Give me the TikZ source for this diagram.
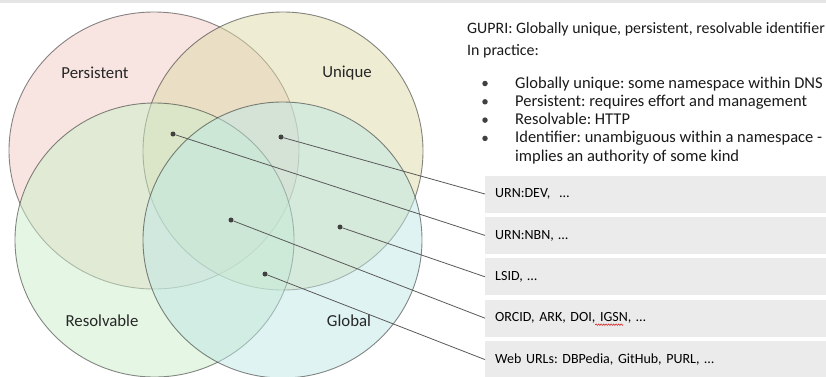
\documentclass[tikz,border=0pt]{standalone}
\usepackage{fontspec}
\setmainfont{Carlito}
\usetikzlibrary{positioning,decorations.pathmorphing}
\frenchspacing
\definecolor{persist}{RGB}{241,203,197}
\definecolor{uniq}{RGB}{221,219,169}
\definecolor{resolv}{RGB}{203,239,201}
\definecolor{glob}{RGB}{191,231,229}
\newsavebox\prebox
\newsavebox\igsnbox
\tikzset{
	venn/.style={draw=black!85, draw opacity=0.55, fill opacity=0.5, line width=0.9pt},
	setlabel/.style={font=\fontsize{16.8}{19}\selectfont, text=black!85},
	spot/.style={circle, fill=black!75, inner sep=0pt, minimum size=5pt},
	idbox/.style={fill=black!8, minimum height=37pt, text width=321pt, inner xsep=10pt, align=left, font=\fontsize{14}{16}\selectfont},
	link/.style={draw=black!65, line width=0.8pt},
	note/.style={anchor=base west, inner sep=0pt, font=\fontsize{16.5}{18}\selectfont, text=black!90},
	spellmark/.style={draw=red!80!black, line width=0.5pt, decorate, decoration={snake, amplitude=0.7pt, segment length=2.5pt}},
}
\begin{document}
\sbox\prebox{\fontsize{14}{16}\selectfont ORCID, ARK, DOI, }%
\sbox\igsnbox{\fontsize{14}{16}\selectfont IGSN}%
\begin{tikzpicture}[x=1pt,y=-1pt]
	\useasboundingbox (0,0) rectangle (826,376);
	\fill [black!10] (0,0) rectangle (826,2.5);
	% the four sets
	\begin{scope}
		\clip (0,0) rectangle (826,376);
		\draw [venn, fill=persist] (154,150.5) ellipse [x radius=145pt, y radius=138.5pt];
		\draw [venn, fill=uniq] (283,151) ellipse [x radius=140pt, y radius=139pt];
		\draw [venn, fill=resolv] (154.5,240) ellipse [x radius=139.5pt, y radius=137pt];
		\draw [venn, fill=glob] (282.5,240) ellipse [x radius=139.5pt, y radius=138pt];
	\end{scope}
	\node [setlabel] (lp) at (95,73) {Persistent};
	\node [setlabel] (lu) at (347,73) {Unique};
	\node [setlabel] (lr) at (102,321) {Resolvable};
	\node [setlabel] (lg) at (349,321) {Global};
	% notes
	\node [note, font=\fontsize{15.9}{18}\selectfont] (hd1) at (467,33) {GUPRI: Globally unique, persistent, resolvable identifier};
	\node [note, font=\fontsize{15.9}{18}\selectfont] (hd2) at (467,55) {In practice:};
	\foreach \txt [count=\i] in {Globally unique: some namespace within DNS, Persistent: requires effort and management, Resolvable: HTTP, Identifier: unambiguous within a namespace -}{
		\node [note] (it\i) at (515,69.7+18.3*\i) {\txt};
		\node [spot, minimum size=5.5pt] (bul\i) at (485,65.2+18.3*\i) {};
	}
	\node [note] (it5) at (515,161.2) {implies an authority of some kind};
	% identifier schemes
	\node [idbox, anchor=west] (b1) at (485,194) {URN:DEV,\ \ …};
	\node [idbox, below=4pt of b1] (b2) {URN:NBN, …};
	\node [idbox, below=4pt of b2] (b3) {LSID, …};
	\node [idbox, below=4pt of b3] (b4) {ORCID, ARK, DOI, IGSN, …};
	\node [idbox, below=4pt of b4] (b5) {Web URLs: DBPedia, GitHub, PURL, …};
	\draw [spellmark] ([xshift=10pt+\wd\prebox, yshift=-2.8pt]b4.base west) -- ++(\wd\igsnbox,0);
	\node [spot] (d1) at (281,137) {};
	\node [spot] (d2) at (173,134) {};
	\node [spot] (d3) at (340,227) {};
	\node [spot] (d4) at (231,220) {};
	\node [spot] (d5) at (265,274) {};
	\foreach \i in {1,...,5}
		\draw [link] (d\i) -- (b\i.west);
\end{tikzpicture}
\end{document}
